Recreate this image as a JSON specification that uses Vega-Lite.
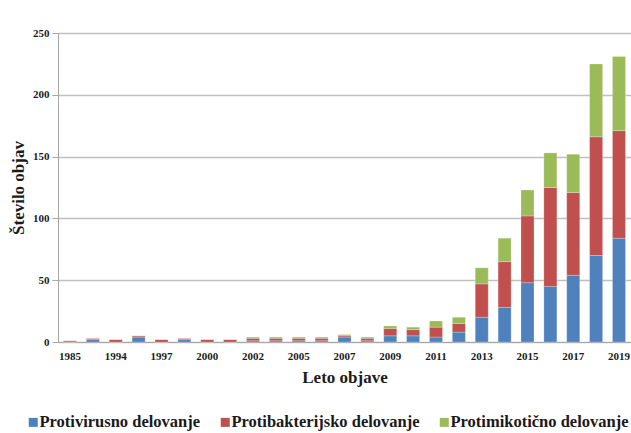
{
  "$schema": "https://vega.github.io/schema/vega-lite/v6.json",
  "width": 573,
  "height": 309,
  "autosize": {"type": "none"},
  "padding": {"left": 58, "top": 33, "right": 0, "bottom": 91},
  "background": "white",
  "data": {
    "values": [
      {"leto": "1985", "vrsta": "Protivirusno delovanje", "k": 1, "n": 0},
      {"leto": "1985", "vrsta": "Protibakterijsko delovanje", "k": 2, "n": 1},
      {"leto": "1985", "vrsta": "Protimikotično delovanje", "k": 3, "n": 0},
      {"leto": "1993", "vrsta": "Protivirusno delovanje", "k": 1, "n": 2},
      {"leto": "1993", "vrsta": "Protibakterijsko delovanje", "k": 2, "n": 1},
      {"leto": "1993", "vrsta": "Protimikotično delovanje", "k": 3, "n": 0},
      {"leto": "1994", "vrsta": "Protivirusno delovanje", "k": 1, "n": 0},
      {"leto": "1994", "vrsta": "Protibakterijsko delovanje", "k": 2, "n": 2},
      {"leto": "1994", "vrsta": "Protimikotično delovanje", "k": 3, "n": 0},
      {"leto": "1996", "vrsta": "Protivirusno delovanje", "k": 1, "n": 4},
      {"leto": "1996", "vrsta": "Protibakterijsko delovanje", "k": 2, "n": 1},
      {"leto": "1996", "vrsta": "Protimikotično delovanje", "k": 3, "n": 0},
      {"leto": "1997", "vrsta": "Protivirusno delovanje", "k": 1, "n": 0},
      {"leto": "1997", "vrsta": "Protibakterijsko delovanje", "k": 2, "n": 2},
      {"leto": "1997", "vrsta": "Protimikotično delovanje", "k": 3, "n": 0},
      {"leto": "1999", "vrsta": "Protivirusno delovanje", "k": 1, "n": 2},
      {"leto": "1999", "vrsta": "Protibakterijsko delovanje", "k": 2, "n": 1},
      {"leto": "1999", "vrsta": "Protimikotično delovanje", "k": 3, "n": 0},
      {"leto": "2000", "vrsta": "Protivirusno delovanje", "k": 1, "n": 0},
      {"leto": "2000", "vrsta": "Protibakterijsko delovanje", "k": 2, "n": 2},
      {"leto": "2000", "vrsta": "Protimikotično delovanje", "k": 3, "n": 0},
      {"leto": "2001", "vrsta": "Protivirusno delovanje", "k": 1, "n": 0},
      {"leto": "2001", "vrsta": "Protibakterijsko delovanje", "k": 2, "n": 2},
      {"leto": "2001", "vrsta": "Protimikotično delovanje", "k": 3, "n": 0},
      {"leto": "2002", "vrsta": "Protivirusno delovanje", "k": 1, "n": 1},
      {"leto": "2002", "vrsta": "Protibakterijsko delovanje", "k": 2, "n": 2},
      {"leto": "2002", "vrsta": "Protimikotično delovanje", "k": 3, "n": 1},
      {"leto": "2004", "vrsta": "Protivirusno delovanje", "k": 1, "n": 1},
      {"leto": "2004", "vrsta": "Protibakterijsko delovanje", "k": 2, "n": 2},
      {"leto": "2004", "vrsta": "Protimikotično delovanje", "k": 3, "n": 1},
      {"leto": "2005", "vrsta": "Protivirusno delovanje", "k": 1, "n": 1},
      {"leto": "2005", "vrsta": "Protibakterijsko delovanje", "k": 2, "n": 2},
      {"leto": "2005", "vrsta": "Protimikotično delovanje", "k": 3, "n": 1},
      {"leto": "2006", "vrsta": "Protivirusno delovanje", "k": 1, "n": 1},
      {"leto": "2006", "vrsta": "Protibakterijsko delovanje", "k": 2, "n": 2},
      {"leto": "2006", "vrsta": "Protimikotično delovanje", "k": 3, "n": 1},
      {"leto": "2007", "vrsta": "Protivirusno delovanje", "k": 1, "n": 4},
      {"leto": "2007", "vrsta": "Protibakterijsko delovanje", "k": 2, "n": 1},
      {"leto": "2007", "vrsta": "Protimikotično delovanje", "k": 3, "n": 1},
      {"leto": "2008", "vrsta": "Protivirusno delovanje", "k": 1, "n": 1},
      {"leto": "2008", "vrsta": "Protibakterijsko delovanje", "k": 2, "n": 2},
      {"leto": "2008", "vrsta": "Protimikotično delovanje", "k": 3, "n": 1},
      {"leto": "2009", "vrsta": "Protivirusno delovanje", "k": 1, "n": 5},
      {"leto": "2009", "vrsta": "Protibakterijsko delovanje", "k": 2, "n": 6},
      {"leto": "2009", "vrsta": "Protimikotično delovanje", "k": 3, "n": 2},
      {"leto": "2010", "vrsta": "Protivirusno delovanje", "k": 1, "n": 5},
      {"leto": "2010", "vrsta": "Protibakterijsko delovanje", "k": 2, "n": 5},
      {"leto": "2010", "vrsta": "Protimikotično delovanje", "k": 3, "n": 2},
      {"leto": "2011", "vrsta": "Protivirusno delovanje", "k": 1, "n": 4},
      {"leto": "2011", "vrsta": "Protibakterijsko delovanje", "k": 2, "n": 8},
      {"leto": "2011", "vrsta": "Protimikotično delovanje", "k": 3, "n": 5},
      {"leto": "2012", "vrsta": "Protivirusno delovanje", "k": 1, "n": 8},
      {"leto": "2012", "vrsta": "Protibakterijsko delovanje", "k": 2, "n": 7},
      {"leto": "2012", "vrsta": "Protimikotično delovanje", "k": 3, "n": 5},
      {"leto": "2013", "vrsta": "Protivirusno delovanje", "k": 1, "n": 20},
      {"leto": "2013", "vrsta": "Protibakterijsko delovanje", "k": 2, "n": 27},
      {"leto": "2013", "vrsta": "Protimikotično delovanje", "k": 3, "n": 13},
      {"leto": "2014", "vrsta": "Protivirusno delovanje", "k": 1, "n": 28},
      {"leto": "2014", "vrsta": "Protibakterijsko delovanje", "k": 2, "n": 37},
      {"leto": "2014", "vrsta": "Protimikotično delovanje", "k": 3, "n": 19},
      {"leto": "2015", "vrsta": "Protivirusno delovanje", "k": 1, "n": 48},
      {"leto": "2015", "vrsta": "Protibakterijsko delovanje", "k": 2, "n": 54},
      {"leto": "2015", "vrsta": "Protimikotično delovanje", "k": 3, "n": 21},
      {"leto": "2016", "vrsta": "Protivirusno delovanje", "k": 1, "n": 45},
      {"leto": "2016", "vrsta": "Protibakterijsko delovanje", "k": 2, "n": 80},
      {"leto": "2016", "vrsta": "Protimikotično delovanje", "k": 3, "n": 28},
      {"leto": "2017", "vrsta": "Protivirusno delovanje", "k": 1, "n": 54},
      {"leto": "2017", "vrsta": "Protibakterijsko delovanje", "k": 2, "n": 67},
      {"leto": "2017", "vrsta": "Protimikotično delovanje", "k": 3, "n": 31},
      {"leto": "2018", "vrsta": "Protivirusno delovanje", "k": 1, "n": 70},
      {"leto": "2018", "vrsta": "Protibakterijsko delovanje", "k": 2, "n": 96},
      {"leto": "2018", "vrsta": "Protimikotično delovanje", "k": 3, "n": 59},
      {"leto": "2019", "vrsta": "Protivirusno delovanje", "k": 1, "n": 84},
      {"leto": "2019", "vrsta": "Protibakterijsko delovanje", "k": 2, "n": 87},
      {"leto": "2019", "vrsta": "Protimikotično delovanje", "k": 3, "n": 60}
    ]
  },
  "mark": {"type": "bar", "stroke": "white", "strokeOpacity": 0.4, "strokeWidth": 0.6},
  "encoding": {
    "x": {
      "field": "leto",
      "type": "ordinal",
      "sort": null,
      "scale": {"paddingInner": 0.43, "paddingOuter": 0.24},
      "axis": {
        "title": "Leto objave",
        "values": ["1985", "1994", "1997", "2000", "2002", "2005", "2007", "2009", "2011", "2013", "2015", "2017", "2019"],
        "labelAngle": 0,
        "ticks": false,
        "labelPadding": 8,
        "titlePadding": 8,
        "domainColor": "#a6a6a6"
      }
    },
    "y": {
      "field": "n",
      "type": "quantitative",
      "stack": "zero",
      "scale": {"domain": [0, 250]},
      "axis": {
        "title": "Število objav",
        "values": [0, 50, 100, 150, 200, 250],
        "tickColor": "#a6a6a6",
        "tickSize": 6,
        "domainColor": "#a6a6a6",
        "gridColor": "#bfbfbf",
        "gridWidth": 1.3,
        "labelPadding": 3,
        "titlePadding": 5
      }
    },
    "color": {
      "field": "vrsta",
      "type": "nominal",
      "sort": ["Protivirusno delovanje", "Protibakterijsko delovanje", "Protimikotično delovanje"],
      "scale": {"range": ["#4f81bd", "#c0504d", "#9bbb59"]},
      "legend": {
        "title": null,
        "orient": "none",
        "legendX": -33,
        "legendY": 381,
        "padding": 0,
        "direction": "horizontal",
        "symbolType": "square",
        "symbolSize": 81,
        "symbolStrokeWidth": 0,
        "labelOffset": -2,
        "columnPadding": 16,
        "labelFontSize": 16.5,
        "labelLimit": 0
      }
    },
    "order": {"field": "k", "type": "quantitative"}
  },
  "config": {
    "font": "Liberation Serif",
    "view": {"stroke": null},
    "axis": {
      "labelFont": "Liberation Serif",
      "labelFontWeight": "bold",
      "labelFontSize": 11,
      "labelColor": "#1a1a1a",
      "titleFont": "Liberation Serif",
      "titleFontWeight": "bold",
      "titleFontSize": 17,
      "titleColor": "#1a1a1a"
    },
    "legend": {
      "labelFont": "Liberation Serif",
      "labelFontWeight": "bold",
      "labelColor": "#1a1a1a"
    }
  }
}
